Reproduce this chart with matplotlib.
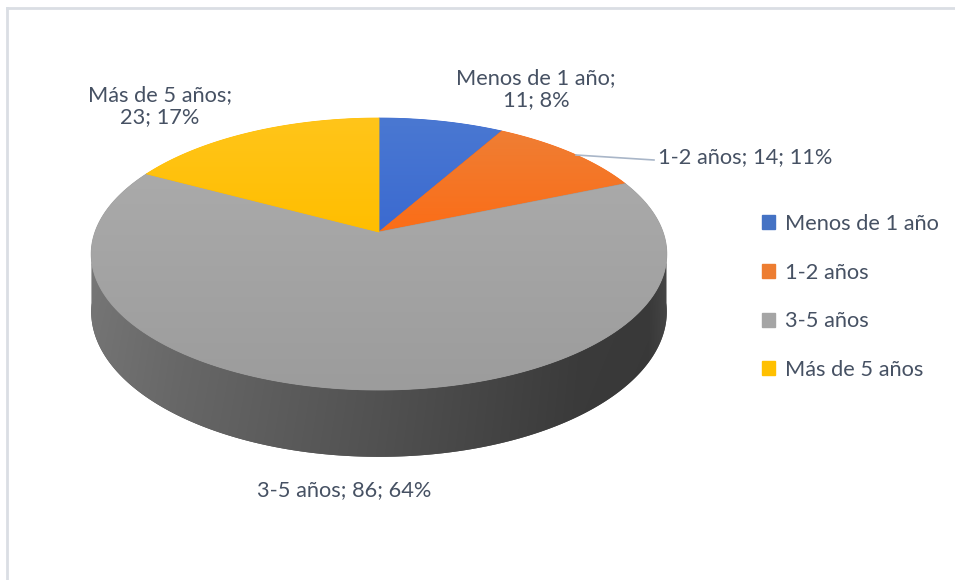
import numpy as np
import matplotlib
matplotlib.use('Agg')
import matplotlib.pyplot as plt
from matplotlib.patches import Polygon, Patch
from matplotlib.colors import LinearSegmentedColormap, to_rgb

# ---- data ----
categories = ['Menos de 1 año', '1-2 años', '3-5 años', 'Más de 5 años']
values = [11, 14, 86, 23]
percent_labels = ['8%', '11%', '64%', '17%']
colors = ['#4472C4', '#ED7D31', '#A5A5A5', '#FFC000']
top_grad = [('#4A78D2', '#3B6AD0'), ('#EF7E34', '#FB6D17'),
            ('#AAAAAA', '#9C9C9C'), ('#FFC51A', '#FFBE00')]

W, H = 955, 580
fig = plt.figure(figsize=(W / 100, H / 100), dpi=100)
ax = fig.add_axes([0, 0, 1, 1])
ax.axis('off')

FONT = 'Lato'
TXT = '#465163'

# fit font size so that legend text width matches reference (~154 px)
tmp = fig.text(0, 0, 'Menos de 1 año', fontsize=14, family=FONT)
fig.canvas.draw()
wpx = tmp.get_window_extent(fig.canvas.get_renderer()).width
FS = 14 * 154.0 / wpx
tmp.remove()

# ---- perspective pie geometry ----
cx, cy = 379, 232
Rx, A, p, D = 284, 132.4, 0.162, 56


def proj(phi, h=0.0):
    u = np.sin(phi)
    v = np.cos(phi)
    s = 1.0 / (1.0 + p * v)
    return cx + Rx * u * s, cy - A * v * s + D * h * s


total = float(sum(values))
bounds = np.concatenate([[0], np.cumsum(values)]) / total * 2 * np.pi

# ---- side (front part, all within the 3-5 años slice) ----
side_phi = np.linspace(np.radians(96), np.radians(264), 300)
xt, yt = proj(side_phi, 0)
xb, yb = proj(side_phi[::-1], 1)
side_pts = np.column_stack([np.concatenate([xt, xb]), np.concatenate([yt, yb])])
side_patch = Polygon(side_pts, closed=True, facecolor='#505050', edgecolor='none')
ax.add_patch(side_patch)
sx0, sx1 = side_pts[:, 0].min(), side_pts[:, 0].max()
sy0, sy1 = side_pts[:, 1].min(), side_pts[:, 1].max()
# horizontal gradient: light on the left, dark on the right
xs_ctrl = np.array([0.0, 0.15, 0.5, 0.85, 0.97, 1.0])
cols_ctrl = np.array([to_rgb(c) for c in
                      ['#767676', '#6A6A6A', '#545454', '#3C3C3C', '#3A3A3A', '#454545']])
xx = np.linspace(0, 1, 400)
row = np.stack([np.interp(xx, xs_ctrl, cols_ctrl[:, j]) for j in range(3)], axis=-1)
# slight vertical shading (lighter near the top rim)
vv = np.linspace(0, 1, 60)
vf = 1.0 + 0.10 * np.exp(-vv / 0.08) - 0.04 * vv
img = np.clip(row[None, :, :] * vf[:, None, None], 0, 1)
im = ax.imshow(img, extent=(sx0, sx1, sy1, sy0), aspect='auto',
               interpolation='bilinear', origin='upper', zorder=1)
im.set_clip_path(side_patch)

# ---- top slices with vertical gradient ----
for k in range(len(values)):
    ph = np.linspace(bounds[k], bounds[k + 1], 200)
    xs, ys = proj(ph, 0)
    pts = np.vstack([[cx, cy], np.column_stack([xs, ys])])
    c_top, c_bot = top_grad[k]
    patch = Polygon(pts, closed=True, facecolor=c_bot, edgecolor=c_bot, lw=0.6, zorder=2)
    ax.add_patch(patch)
    cmap = LinearSegmentedColormap.from_list('g%d' % k, [c_top, c_bot])
    grad = np.linspace(0, 1, 256).reshape(-1, 1)
    ymin, ymax = pts[:, 1].min(), pts[:, 1].max()
    xmin, xmax = pts[:, 0].min(), pts[:, 0].max()
    im = ax.imshow(grad, cmap=cmap, extent=(xmin, xmax, ymax, ymin),
                   aspect='auto', interpolation='bilinear', origin='upper', zorder=2)
    im.set_clip_path(patch)

# ---- data labels ----
lab = [f'{c};\n{v}; {pc}' for c, v, pc in zip(categories, values, percent_labels)]
ax.text(536, 89, lab[0], ha='center', va='center', fontsize=FS, family=FONT,
        color=TXT, linespacing=1.15, zorder=5)
ax.text(658, 157, lab[1].replace('\n', ' '), ha='left', va='center', fontsize=FS,
        family=FONT, color=TXT, zorder=5)
ax.text(160, 106, lab[3], ha='center', va='center', fontsize=FS, family=FONT,
        color=TXT, linespacing=1.15, zorder=5)
ax.text(344, 490, lab[2].replace('\n', ' '), ha='center', va='center', fontsize=FS,
        family=FONT, color=TXT, zorder=5)
# leader line for 1-2 años
ax.plot([576, 654], [155, 160], color='#A9B6C8', lw=1.2, zorder=5)

# ---- legend ----
handles = [Patch(facecolor=c, edgecolor=c) for c in colors]
leg = ax.legend(handles, categories, loc='center left',
                bbox_to_anchor=(762, 297), bbox_transform=ax.transData,
                frameon=False, borderpad=0, borderaxespad=0,
                handlelength=0.62, handleheight=0.62, handletextpad=0.45,
                labelspacing=1.32, prop={'family': FONT, 'size': FS})
for t in leg.get_texts():
    t.set_color(TXT)

# ---- chart border (left/top visible) ----
ax.plot([7, 7], [8, H + 5], color='#DADEE4', lw=2, zorder=6, clip_on=False)
ax.plot([7, W + 5], [8, 8], color='#DADEE4', lw=2, zorder=6, clip_on=False)

ax.set_xlim(0, W)
ax.set_ylim(H, 0)
fig.savefig('out.png', dpi=100, facecolor='white')
